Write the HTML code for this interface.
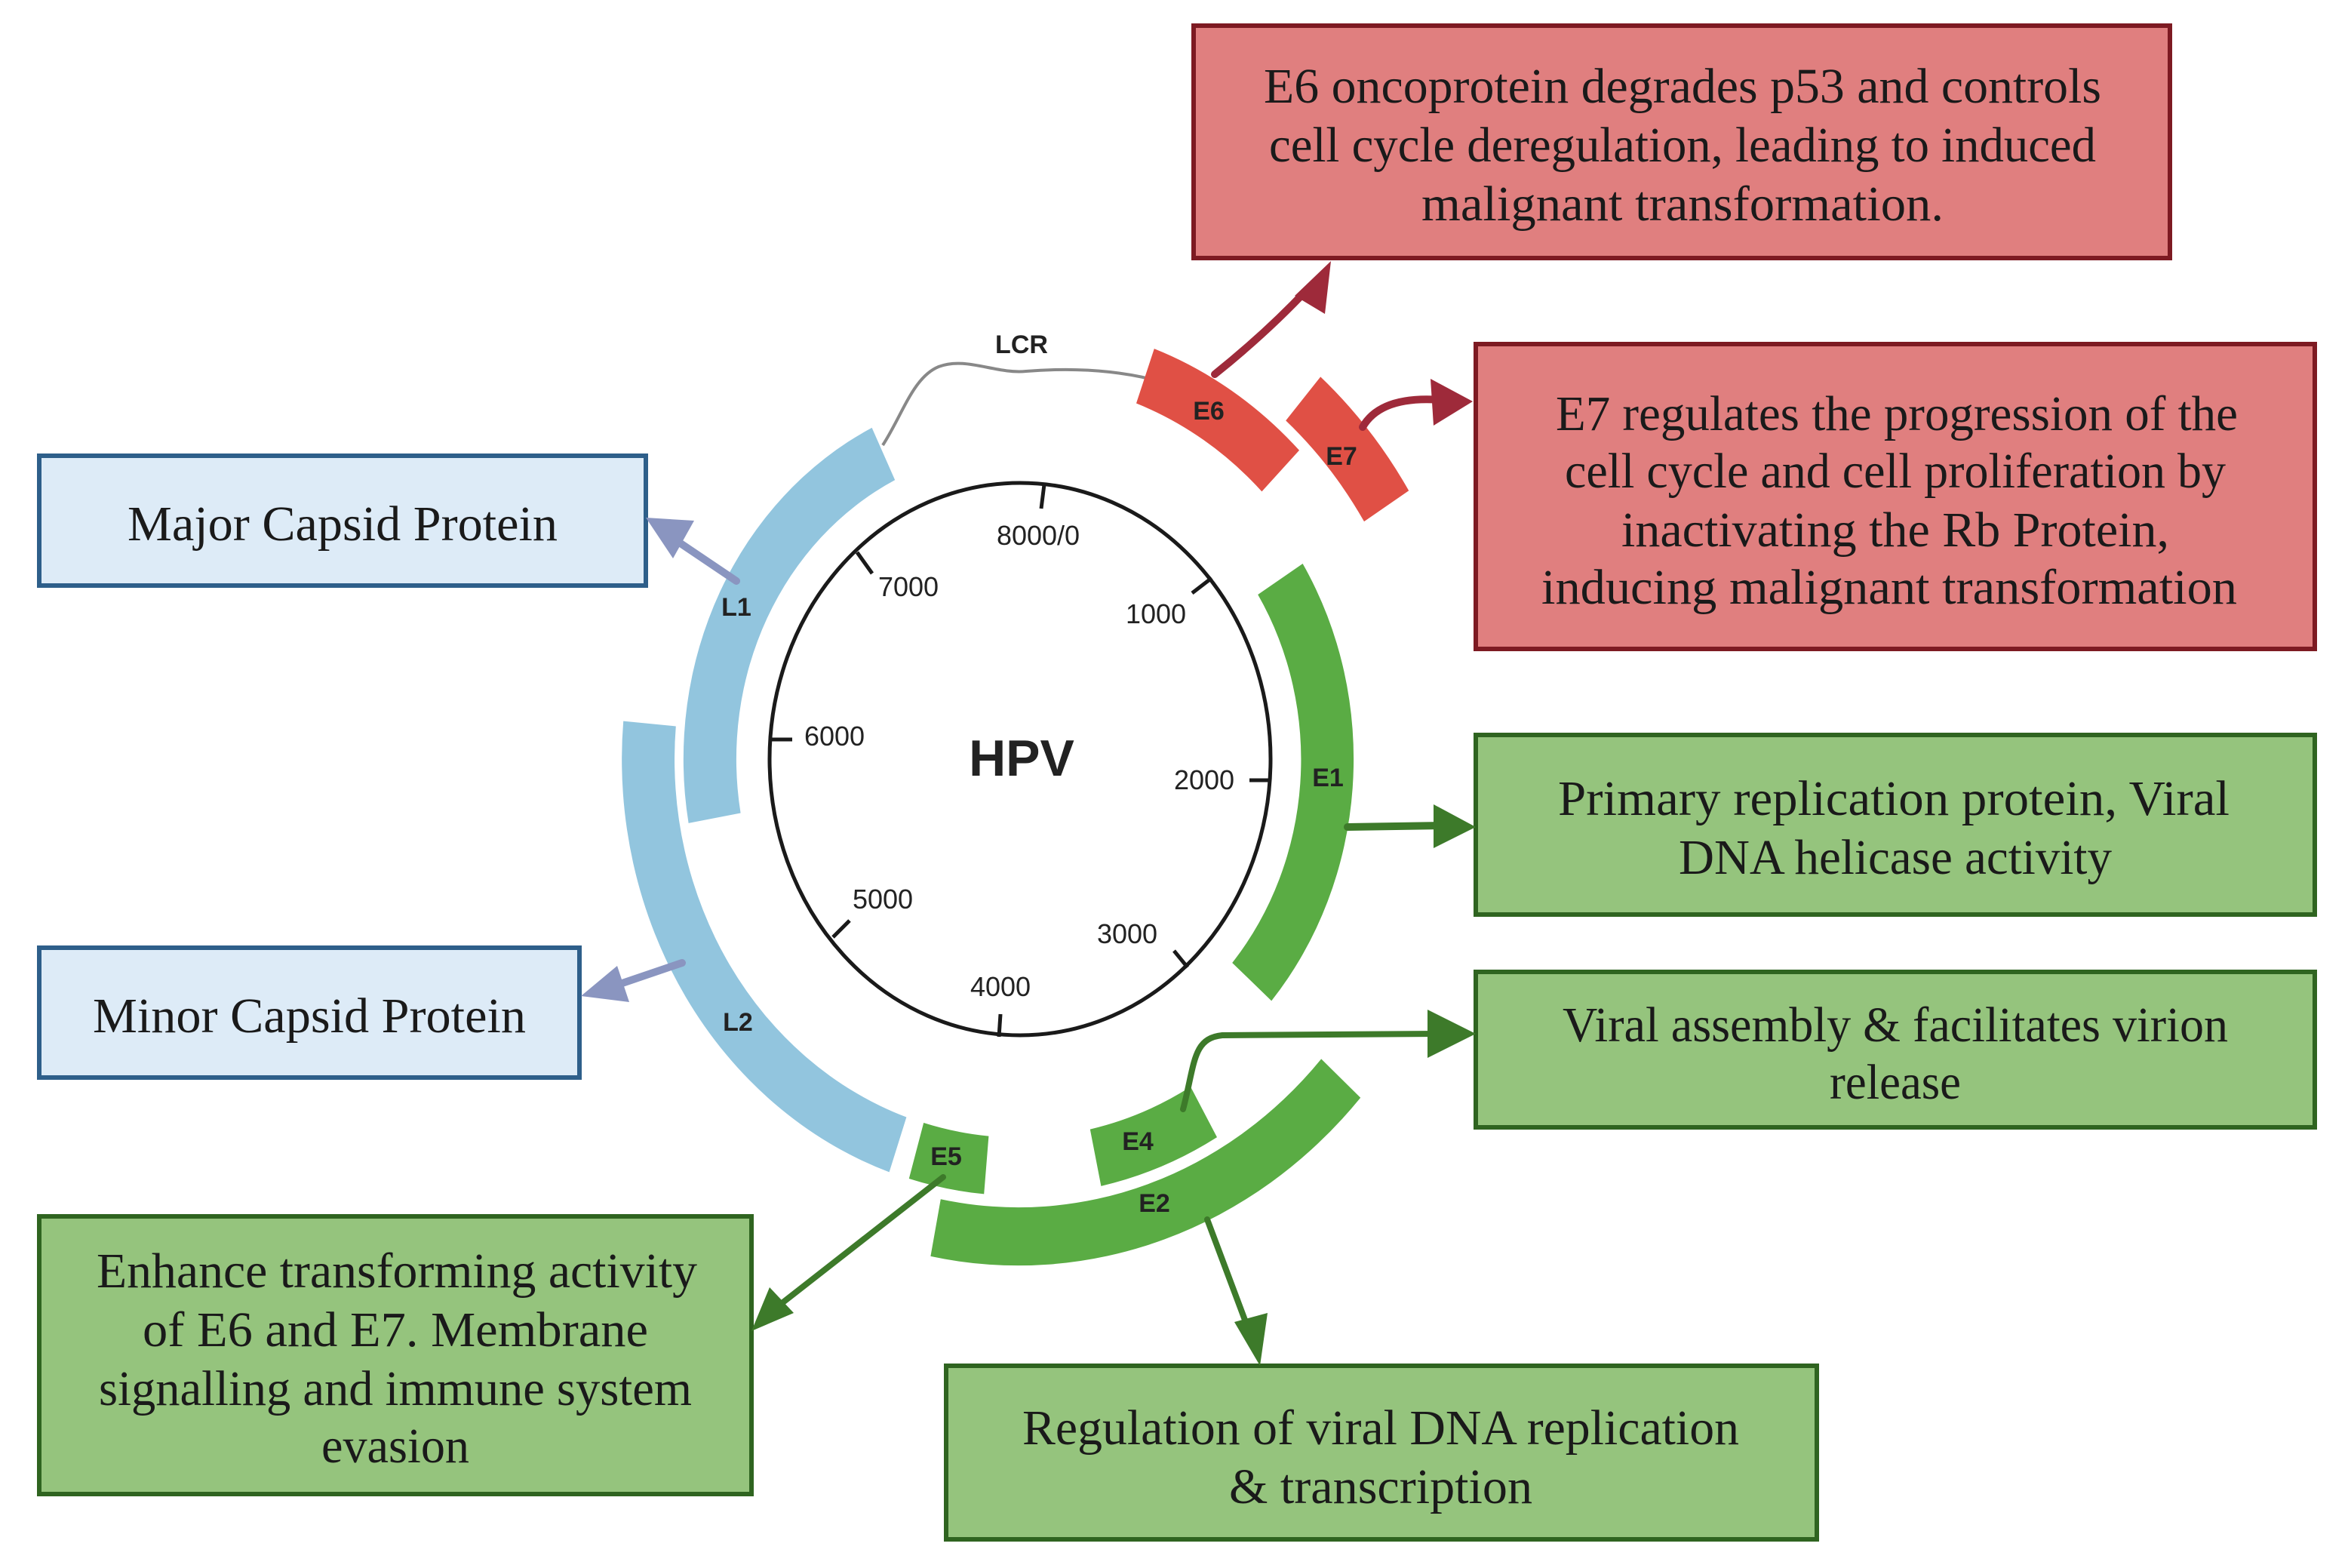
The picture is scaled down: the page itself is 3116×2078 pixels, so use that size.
<!DOCTYPE html>
<html><head><meta charset="utf-8"><style>
html,body{margin:0;padding:0;background:#fff;}
svg{display:block;}
.t{font-family:"Liberation Serif",serif;font-size:33px;fill:#1a1a1a;text-anchor:middle;}
.n{font-family:"Liberation Sans",sans-serif;font-size:18px;fill:#222;text-anchor:middle;}
.g{font-family:"Liberation Sans",sans-serif;font-size:17px;font-weight:bold;fill:#222;text-anchor:middle;}
</style></head><body>
<svg width="3116" height="2078" viewBox="0 0 1558 1039" xmlns="http://www.w3.org/2000/svg">
<rect width="1558" height="1039" fill="#fff"/>

<!-- boxes -->
<rect x="791" y="17" width="647" height="154" fill="#e07f7f" stroke="#7d1a22" stroke-width="3"/>
<text class="t" x="1115" y="68" textLength="555" lengthAdjust="spacingAndGlyphs">E6 oncoprotein degrades p53 and controls</text>
<text class="t" x="1115" y="107" textLength="548" lengthAdjust="spacingAndGlyphs">cell cycle deregulation, leading to induced</text>
<text class="t" x="1115" y="146" textLength="346" lengthAdjust="spacingAndGlyphs">malignant transformation.</text>

<rect x="978" y="228" width="556" height="202" fill="#e07f7f" stroke="#7d1a22" stroke-width="3"/>
<text class="t" x="1257" y="285" textLength="452" lengthAdjust="spacingAndGlyphs">E7 regulates the progression of the</text>
<text class="t" x="1256" y="323" textLength="438" lengthAdjust="spacingAndGlyphs">cell cycle and cell proliferation by</text>
<text class="t" x="1256" y="362" textLength="363" lengthAdjust="spacingAndGlyphs">inactivating the Rb Protein,</text>
<text class="t" x="1252" y="400" textLength="461" lengthAdjust="spacingAndGlyphs">inducing malignant transformation</text>

<rect x="26" y="302" width="402" height="86" fill="#ddebf7" stroke="#2e5f8a" stroke-width="3"/>
<text class="t" x="227" y="358" textLength="285" lengthAdjust="spacingAndGlyphs">Major Capsid Protein</text>
<rect x="26" y="628" width="358" height="86" fill="#ddebf7" stroke="#2e5f8a" stroke-width="3"/>
<text class="t" x="205" y="684" textLength="287" lengthAdjust="spacingAndGlyphs">Minor Capsid Protein</text>

<rect x="978" y="487" width="556" height="119" fill="#95c47d" stroke="#2f6420" stroke-width="3"/>
<text class="t" x="1255" y="540" textLength="445" lengthAdjust="spacingAndGlyphs">Primary replication protein,  Viral</text>
<text class="t" x="1256" y="579" textLength="287" lengthAdjust="spacingAndGlyphs">DNA helicase activity</text>

<rect x="978" y="644" width="556" height="103" fill="#95c47d" stroke="#2f6420" stroke-width="3"/>
<text class="t" x="1256" y="690" textLength="441" lengthAdjust="spacingAndGlyphs">Viral assembly &amp; facilitates virion</text>
<text class="t" x="1256" y="728" textLength="87" lengthAdjust="spacingAndGlyphs">release</text>

<rect x="26" y="806" width="472" height="184" fill="#95c47d" stroke="#2f6420" stroke-width="3"/>
<text class="t" x="263" y="853" textLength="398" lengthAdjust="spacingAndGlyphs">Enhance transforming activity</text>
<text class="t" x="262" y="892" textLength="335" lengthAdjust="spacingAndGlyphs">of E6 and E7. Membrane</text>
<text class="t" x="262" y="931" textLength="393" lengthAdjust="spacingAndGlyphs">signalling and immune system</text>
<text class="t" x="262" y="969" textLength="98" lengthAdjust="spacingAndGlyphs">evasion</text>

<rect x="627" y="905" width="577" height="115" fill="#95c47d" stroke="#2f6420" stroke-width="3"/>
<text class="t" x="915" y="957" textLength="475" lengthAdjust="spacingAndGlyphs">Regulation of viral DNA replication</text>
<text class="t" x="915" y="996" textLength="201" lengthAdjust="spacingAndGlyphs">&amp; transcription</text>

<!-- inner genome circle -->
<ellipse cx="676" cy="503" rx="166" ry="183" fill="none" stroke="#1a1a1a" stroke-width="2.5"/>
<g stroke="#1a1a1a" stroke-width="2.5">
<line x1="692" y1="321" x2="690" y2="337"/>
<line x1="568" y1="366" x2="578" y2="380"/>
<line x1="803" y1="383" x2="790" y2="393"/>
<line x1="511" y1="490" x2="525" y2="490"/>
<line x1="842" y1="517" x2="828" y2="517"/>
<line x1="552" y1="621" x2="563" y2="610"/>
<line x1="778" y1="630" x2="787" y2="641"/>
<line x1="662" y1="687" x2="663" y2="672"/>
</g>
<text class="n" x="688" y="361">8000/0</text>
<text class="n" x="602" y="395">7000</text>
<text class="n" x="766" y="413">1000</text>
<text class="n" x="553" y="494">6000</text>
<text class="n" x="798" y="523">2000</text>
<text class="n" x="585" y="602">5000</text>
<text class="n" x="747" y="625">3000</text>
<text class="n" x="663" y="660">4000</text>
<text x="677" y="514" style="font-family:'Liberation Sans',sans-serif;font-size:34px;font-weight:bold;fill:#222;text-anchor:middle">HPV</text>

<!-- LCR -->
<path d="M585 295 C598 275 605 250 622 243 C640 236 660 248 680 246 C705 244 735 244 766 252" fill="none" stroke="#888" stroke-width="2"/>
<text class="g" x="677" y="234">LCR</text>

<!-- gene arcs -->
<g transform="translate(675,503) scale(1,1.1)">
<path fill="#92c5de" d="M-218.7 38.6 A222 222 0 0 1 -97.2 -199.6 L-81.9 -168.1 A187 187 0 0 0 -184.2 32.5Z"/>
<path fill="#5aac44" d="M188.3 -117.7 A222 222 0 0 1 167.6 145.6 L141.6 122.7 A187 187 0 0 0 158.6 -99.1Z"/>
<path fill="#92c5de" d="M-85.7 248.8 A263 263 0 0 1 -261.9 -22.9 L-227.1 -19.8 A228 228 0 0 0 -74.3 215.7Z"/>
<path fill="#5aac44" d="M-22.9 262 A263 263 0 0 1 -72.6 252.7 L-62.9 219.1 A228 228 0 0 0 -19.8 227.1Z"/>
<path fill="#5aac44" d="M131.5 227.8 A263 263 0 0 1 54.7 257.2 L47.4 223 A228 228 0 0 0 114 197.4Z"/>
<path fill="#e05045" d="M89.9 -247.2 A263 263 0 0 1 186 -186 L161.2 -161.2 A228 228 0 0 0 78 -214.3Z"/>
<path fill="#5aac44" d="M226.6 204 A305 305 0 0 1 -58.3 299.5 L-51.6 265.1 A270 270 0 0 0 200.6 180.6Z"/>
<path fill="#e05045" d="M200.1 -230.3 A305 305 0 0 1 258.6 -161.7 L229 -143.1 A270 270 0 0 0 177.1 -203.9Z"/>
</g>
<text class="g" x="488" y="408">L1</text>
<text class="g" x="880" y="521">E1</text>
<text class="g" x="489" y="683">L2</text>
<text class="g" x="627" y="772">E5</text>
<text class="g" x="754" y="762">E4</text>
<text class="g" x="765" y="803">E2</text>
<text class="g" x="801" y="278">E6</text>
<text class="g" x="889" y="308">E7</text>

<!-- arrows -->
<g fill="none" stroke-linecap="round">
<path d="M805 248 Q840 220 868 190" stroke="#9e2a3a" stroke-width="5"/>
<path d="M903 283 Q915 262 955 265" stroke="#9e2a3a" stroke-width="5"/>
<path d="M488 385 L445 356" stroke="#8a95c0" stroke-width="5"/>
<path d="M452 638 L405 654" stroke="#8a95c0" stroke-width="5"/>
<path d="M893 548 L955 547" stroke="#3d7a2a" stroke-width="5"/>
<path d="M784 735 C792 705 790 688 810 686 L955 685" stroke="#3d7a2a" stroke-width="4"/>
<path d="M800 808 L827 880" stroke="#3d7a2a" stroke-width="4"/>
<path d="M625 780 L515 866" stroke="#3d7a2a" stroke-width="4"/>
</g>
<g>
<polygon points="882,173 878,208 858,196" fill="#9e2a3a"/>
<polygon points="976,266 948,251 950,282" fill="#9e2a3a"/>
<polygon points="428,343 460,345 446,370" fill="#8a95c0"/>
<polygon points="385,660 409,640 417,664" fill="#8a95c0"/>
<polygon points="978,548 950,533 950,562" fill="#3d7a2a"/>
<polygon points="978,685 946,669 946,701" fill="#3d7a2a"/>
<polygon points="835,905 818,876 840,870" fill="#3d7a2a"/>
<polygon points="498,882 510,853 526,870" fill="#3d7a2a"/>
</g>
</svg>
</body></html>
